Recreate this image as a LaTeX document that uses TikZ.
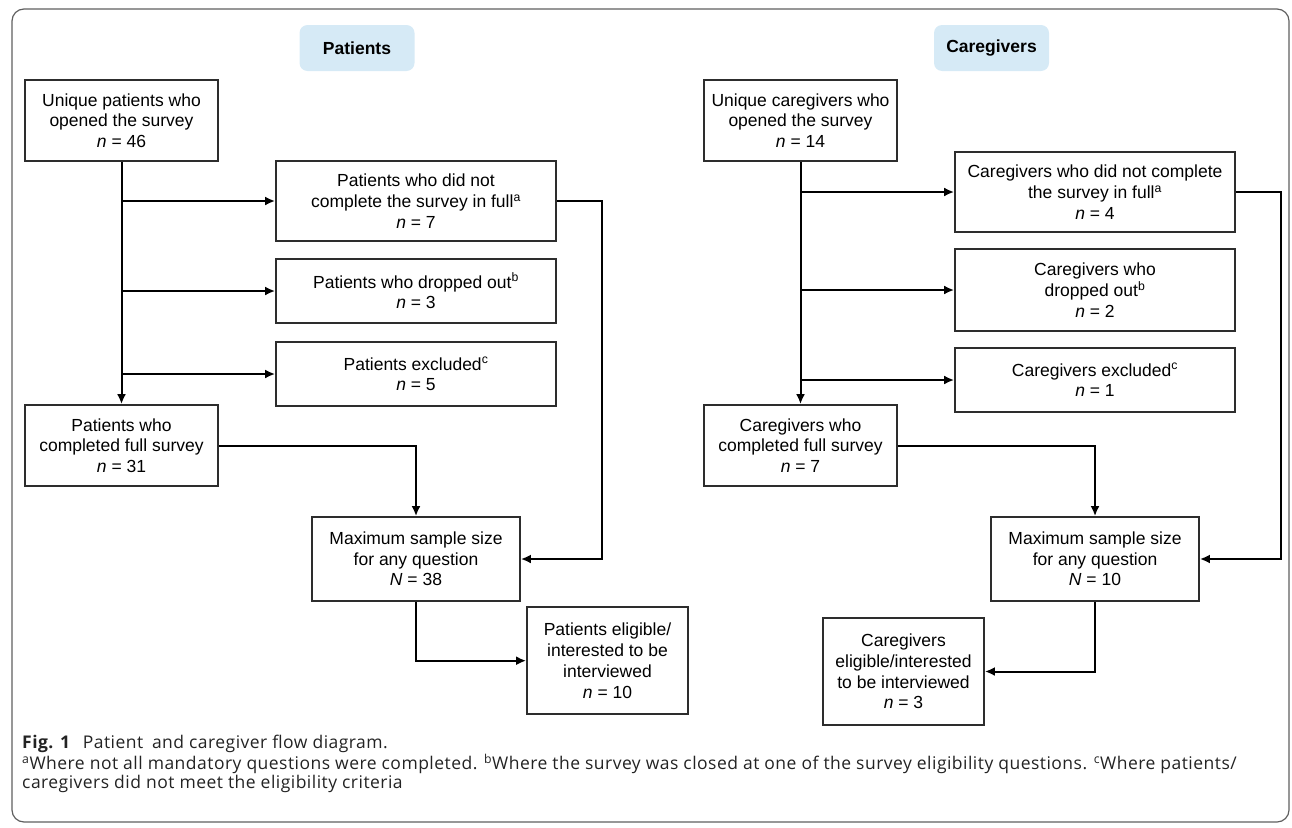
\documentclass[tikz,border=0pt]{standalone}
\usepackage{fontspec}
\setmainfont{Liberation Sans}
\newfontfamily\capfont[LetterSpace=2.7]{Open Sans}
\usetikzlibrary{positioning,arrows.meta}
\definecolor{tagblue}{RGB}{214,234,246}
\definecolor{boxgray}{RGB}{45,45,45}
\definecolor{framegray}{RGB}{95,95,95}
\definecolor{captext}{RGB}{35,35,35}

\begin{document}
\begin{tikzpicture}[x=1pt,y=-1pt,inner sep=0pt]
\tikzstyle{main}=[rectangle, draw=boxgray, line width=1.8pt, align=center, font=\fontsize{17.5}{20.7}\selectfont]
\tikzstyle{tag}=[rectangle, rounded corners=8pt, fill=tagblue, minimum width=115pt, minimum height=46pt, font=\bfseries\fontsize{17.5}{20}\selectfont]
\tikzstyle{connect}=[-{Latex[length=10pt,width=9pt]}, line width=2pt]
\tikzstyle{caption}=[anchor=base west, align=left, text=captext, font=\capfont\fontsize{17.5}{16.6}\selectfont]
\useasboundingbox (0,0) rectangle (1292,827);
\draw[framegray, line width=1.2pt, rounded corners=12pt] (12,9) rectangle (1289,822);
% patients
\node[tag] (pTag) at (357,48) {Patients};
\node[main, minimum width=193pt, minimum height=81pt] (pOpen) at (121.5,120.5) {Unique patients who\\opened the survey\\\textit{n} = 46};
\node[main, minimum width=280pt, minimum height=80pt] (pPart) at (416,201) {Patients who did not\\complete the survey in full\textsuperscript{a}\\\textit{n} = 7};
\node[main, minimum width=280pt, minimum height=64pt] (pDrop) at (416,291) {Patients who dropped out\textsuperscript{b}\\\textit{n} = 3};
\node[main, minimum width=280pt, minimum height=64pt] (pExcl) at (416,374) {Patients excluded\textsuperscript{c}\\\textit{n} = 5};
\node[main, minimum width=193pt, minimum height=81pt] (pFull) at (121.5,445.5) {Patients who\\completed full survey\\\textit{n} = 31};
\node[main, minimum width=208pt, minimum height=84pt] (pMax) at (416,559) {Maximum sample size\\for any question\\\textit{N} = 38};
\node[main, minimum width=161pt, minimum height=107pt] (pElig) at (607.5,660.7) {Patients eligible/\\interested to be\\interviewed\\\textit{n} = 10};
% caregivers
\node[tag] (cTag) at (991.5,48) {Caregivers};
\node[main, minimum width=193pt, minimum height=81pt] (cOpen) at (800.5,120.5) {Unique caregivers who\\opened the survey\\\textit{n} = 14};
\node[main, minimum width=280pt, minimum height=80pt] (cPart) at (1095,192) {Caregivers who did not complete\\the survey in full\textsuperscript{a}\\\textit{n} = 4};
\node[main, minimum width=280pt, minimum height=82pt] (cDrop) at (1095,290) {Caregivers who\\dropped out\textsuperscript{b}\\\textit{n} = 2};
\node[main, minimum width=280pt, minimum height=64pt] (cExcl) at (1095,380) {Caregivers excluded\textsuperscript{c}\\\textit{n} = 1};
\node[main, minimum width=193pt, minimum height=81pt] (cFull) at (800.5,445.5) {Caregivers who\\completed full survey\\\textit{n} = 7};
\node[main, minimum width=208pt, minimum height=84pt] (cMax) at (1095,559) {Maximum sample size\\for any question\\\textit{N} = 10};
\node[main, minimum width=161pt, minimum height=107pt] (cElig) at (903.5,671.5) {Caregivers\\eligible/interested\\to be interviewed\\\textit{n} = 3};
% connectors
\path (pOpen) edge[connect] (pFull);
\draw[connect] (pOpen.south |- pPart.west) -- (pPart.west);
\draw[connect] (pOpen.south |- pDrop.west) -- (pDrop.west);
\draw[connect] (pOpen.south |- pExcl.west) -- (pExcl.west);
\draw[connect] (pFull.east) -| (pMax.north);
\draw[connect] (pPart.east) -- ++(45,0) |- (pMax.east);
\draw[connect] (pMax.south) |- (pElig.west);
\path (cOpen) edge[connect] (cFull);
\draw[connect] (cOpen.south |- cPart.west) -- (cPart.west);
\draw[connect] (cOpen.south |- cDrop.west) -- (cDrop.west);
\draw[connect] (cOpen.south |- cExcl.west) -- (cExcl.west);
\draw[connect] (cFull.east) -| (cMax.north);
\draw[connect] (cPart.east) -- ++(45,0) |- (cMax.east);
\draw[connect] (cMax.south) |- (cElig.east);
% caption
\node[caption] (cap) at (22,788) {\textbf{Fig. 1}\hspace{0.7em}Patient\hspace{0.5em}and caregiver flow diagram.\\
\textsuperscript{a}Where not all mandatory questions were completed. \textsuperscript{b}Where the survey was closed at one of the survey eligibility questions. \textsuperscript{c}Where patients/\\
caregivers did not meet the eligibility criteria};
\end{tikzpicture}
\end{document}
